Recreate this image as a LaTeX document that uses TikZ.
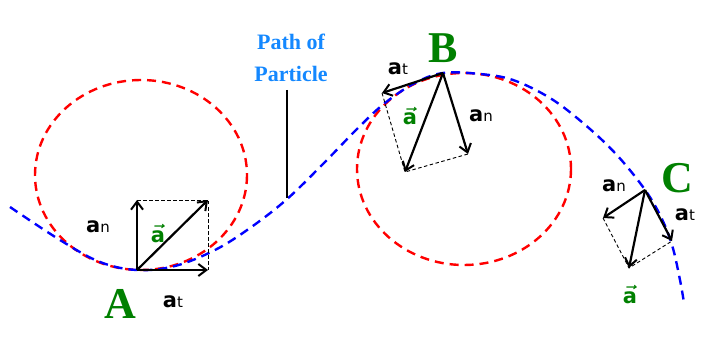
\RequirePackage{fix-cm}
\documentclass[tikz,border=0pt]{standalone}
\usepackage{fontspec}
\setmainfont{Liberation Serif}
\newfontfamily\vfont{DejaVu Sans}
\usetikzlibrary{arrows.meta}

\definecolor{grn}{RGB}{0,128,0}
\definecolor{lblue}{RGB}{20,136,255}

% a with a small subscript on the baseline
\newcommand{\acomp}[1]{{\vfont\fontsize{21}{21}\selectfont\bfseries a\fontsize{15}{15}\selectfont\mdseries #1}}
\newcommand{\avec}{{\color{grn}\fontsize{21}{21}\selectfont\boldmath$\vec{\mbox{\vfont\bfseries a}}$}}

\begin{document}
\begin{tikzpicture}[x=1pt, y=-1pt]
    \tikzstyle{vec} = [-{Straight Barb[length=8pt,width=12pt,line width=2pt]}, line width=2.2pt, black]
    \tikzstyle{helper} = [black, line width=0.9pt, dash pattern=on 3.5pt off 2.5pt]
    \tikzstyle{circ} = [red, line width=2.4pt, dash pattern=on 9pt off 6pt]
    \tikzstyle{traj} = [blue, line width=2.4pt, dash pattern=on 9pt off 6pt]
    \tikzstyle{lbl} = [inner sep=0pt, anchor=base]
    \tikzstyle{bigl} = [inner sep=0pt, anchor=base, text=grn, font=\fontsize{44}{44}\selectfont\bfseries]

    \useasboundingbox (0,0) rectangle (709,339);

    % osculating circles
    \draw[circ] (141,175) ellipse [x radius=106, y radius=95];
    \draw[circ] (464,169) ellipse [x radius=107, y radius=96];

    % path of the particle
    \draw[traj] plot[smooth, tension=0.6] coordinates {(10,207) (60,240) (100,262) (137,270) (175,266) (215,250) (250,228) (286,200) (322,165) (358,128) (385,103) (415,83) (443,73) (480,74) (513,80) (550,98) (583,123) (615,153) (643,187) (660,215) (672,245) (680,280) (684,303)};

    % points and vector tips
    \coordinate (A) at (137,270);
    \coordinate (Atn) at (137,200);
    \coordinate (Att) at (208,270);
    \coordinate (Ata) at (208,200);
    \coordinate (B) at (443,73);
    \coordinate (Btt) at (382,93);
    \coordinate (Bta) at (405,172);
    \coordinate (Btn) at (468,154);
    \coordinate (C) at (645,190);
    \coordinate (Ctn) at (603,218);
    \coordinate (Ctt) at (672,241);
    \coordinate (Cta) at (629,268);

    \draw[helper] (Atn) -- (Ata) -- (Att);
    \draw[helper] (Btt) -- (Bta) -- (Btn);
    \draw[helper] (Ctn) -- (Cta) -- (Ctt);

    \draw[vec] (A) -- (Atn);
    \draw[vec] (A) -- (Att);
    \draw[vec] (A) -- (Ata);
    \draw[vec] (B) -- (Btt);
    \draw[vec] (B) -- (Bta);
    \draw[vec] (B) -- (Btn);
    \draw[vec] (C) -- (Ctn);
    \draw[vec] (C) -- (Ctt);
    \draw[vec] (C) -- (Cta);

    % labels
    \node[bigl] (Alab) at (120,318) {A};
    \node[bigl] (Blab) at (443,63) {B};
    \node[bigl] (Clab) at (677,193) {C};

    \node[lbl] (Aan) at (98,232) {\acomp{n}};
    \node[lbl] (Aat) at (173,307) {\acomp{t}};
    \node[lbl] (Aa) at (158,242) {\avec};
    \node[lbl] (Bat) at (398,75) {\acomp{t}};
    \node[lbl] (Ba) at (410,125) {\avec};
    \node[lbl] (Ban) at (481,122) {\acomp{n}};
    \node[lbl] (Can) at (614,192) {\acomp{n}};
    \node[lbl] (Cat) at (685,220) {\acomp{t}};
    \node[lbl] (Ca) at (630,303) {\avec};

    \node[lbl, text=lblue, font=\fontsize{22}{22}\selectfont\bfseries] (path1) at (291,50) {Path of};
    \node[lbl, text=lblue, font=\fontsize{22}{22}\selectfont\bfseries] (path2) at (291,82) {Particle};
    \coordinate (ptrtop) at (287,90);
    \coordinate (ptr) at (287,198);
    \draw[black, line width=1.2pt] (ptrtop) -- (ptr);
\end{tikzpicture}
\end{document}
